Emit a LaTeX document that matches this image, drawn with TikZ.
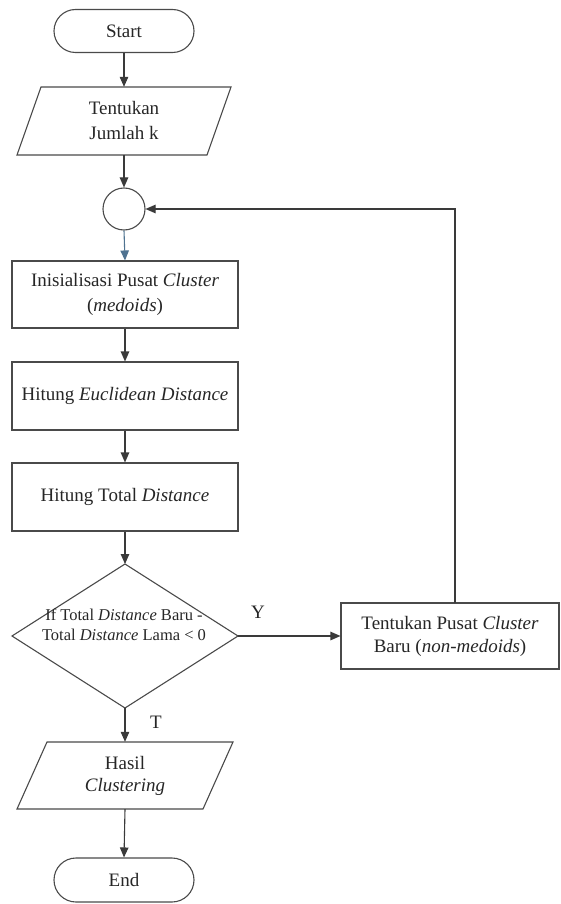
\documentclass[tikz,border=0pt]{standalone}
\usepackage{fontspec}
\setmainfont{Liberation Serif}
\usetikzlibrary{arrows.meta}
\definecolor{linegray}{HTML}{4A4A4A}
\definecolor{arrowgray}{HTML}{3A3A3A}
\definecolor{bluegray}{HTML}{4F7391}
\begin{document}
\begin{tikzpicture}[x=1pt,y=-1pt,
  txt/.style={font=\fontsize{19}{25}\selectfont, align=center, text=black!85},
  box/.style={txt, draw=linegray, line width=1.1pt, fill=white, minimum width=226pt, minimum height=67pt, inner sep=2pt},
  term/.style={txt, draw=linegray, line width=1.1pt, rounded corners=21.5pt, minimum width=140pt, minimum height=43pt, inner sep=0pt},
  ghost/.style={txt, draw=none, inner sep=0pt},
  shapeline/.style={draw=linegray, line width=1.1pt},
  arr/.style={draw=arrowgray, line width=1.1pt, -{Triangle[length=10pt,width=8.5pt]}},
  lbl/.style={font=\fontsize{19}{21}\selectfont, text=black!85}
]
\useasboundingbox (0,0) rectangle (560,904);

% Start
\node[term] (start) at (124,31) {Start};

% Input parallelogram
\node[ghost, minimum width=190pt, minimum height=68pt] (inp) at (124,121) {Tentukan\\Jumlah k};
\draw[shapeline] (41,87) -- (231,87) -- (207,155) -- (17,155) -- cycle;

% Connector circle
\node[draw=linegray, line width=1.1pt, circle, minimum size=42pt, inner sep=0pt] (con) at (124,209) {};

% Process boxes
\node[box] (init) at (125,294.5) {Inisialisasi Pusat \textit{Cluster}\\(\textit{medoids})};
\node[box, minimum height=68pt] (euc) at (125,396) {Hitung \textit{Euclidean Distance}};
\node[box, minimum height=68pt] (tot) at (125,497) {Hitung Total \textit{Distance}};

% Decision diamond
\coordinate (dtop) at (125,564);
\coordinate (dleft) at (12,636);
\coordinate (dright) at (238,636);
\coordinate (dbot) at (125,708);
\draw[shapeline] (dtop) -- (dright) -- (dbot) -- (dleft) -- cycle;
\node[ghost, font=\fontsize{16.5}{19.5}\selectfont] (dec) at (124,625) {If Total \textit{Distance} Baru -\\Total \textit{Distance} Lama < 0};

% New medoid box
\node[box, minimum width=218pt, minimum height=66pt, font=\fontsize{19}{23}\selectfont] (newc) at (450,636) {Tentukan Pusat \textit{Cluster}\\Baru (\textit{non-medoids})};

% Output parallelogram
\node[ghost, minimum width=186pt, minimum height=67pt, font=\fontsize{19}{22}\selectfont] (out) at (125,775.5) {Hasil\\\textit{Clustering}};
\draw[shapeline] (47,742) -- (233,742) -- (203,809) -- (17,809) -- cycle;

% End
\node[term, minimum height=44pt, rounded corners=22pt] (end) at (124,880) {End};

% Connectors
\draw[arr] (start.south) -- (inp.north);
\draw[arr] (inp.south) -- (con.north);
\draw[arr, draw=bluegray] (con.south) -- (init.north);
\draw[arr] (init.south) -- (euc.north);
\draw[arr] (euc.south) -- (tot.north);
\draw[arr] (tot.south) -- (dtop);
\draw[arr] (dright) -- (newc.west);
\coordinate (fb) at (455,603);
\draw[arr] (fb) -- (455,209) -- (con.east);
\draw[arr] (dbot) -- (out.north);
\draw[arr] (out.south) -- (end.north);

% Labels
\node[lbl] (ylab) at (258,612) {Y};
\node[lbl] (tlab) at (156,722) {T};
\end{tikzpicture}
\end{document}
